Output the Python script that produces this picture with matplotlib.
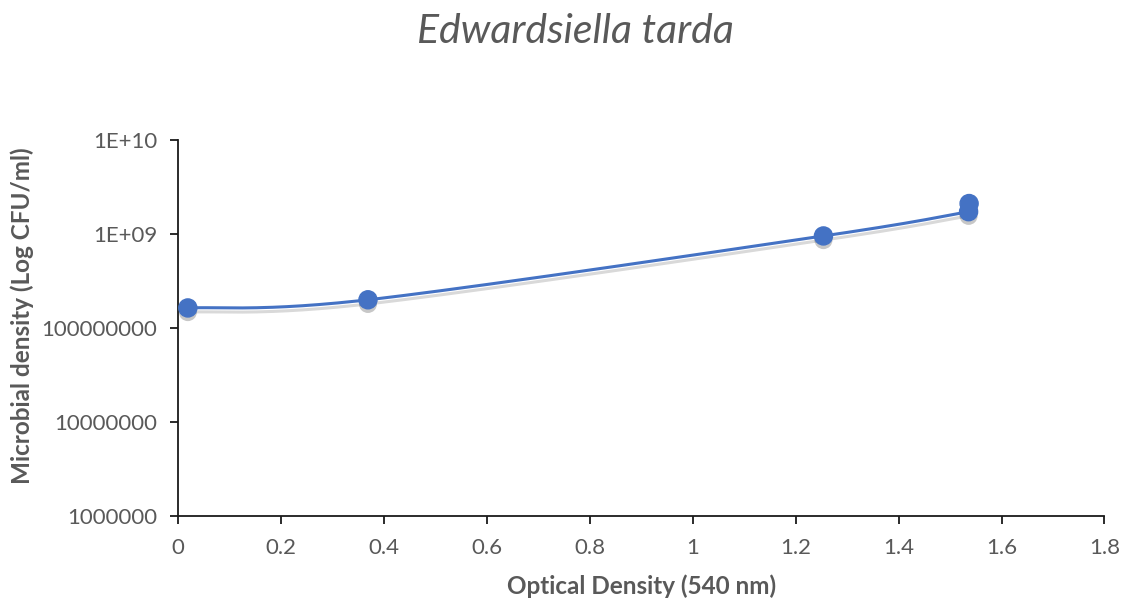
import numpy as np
import matplotlib.pyplot as plt
import matplotlib.patheffects as pe
from matplotlib.ticker import FixedLocator, FixedFormatter

# Calibration readings for E. tarda
od_540 = [0.019, 0.369, 1.254, 1.536, 1.537]
cfu_per_ml = [1.63e8, 1.99e8, 9.5e8, 1.72e9, 2.1e9]

y_ticks = [1e6, 1e7, 1e8, 1e9, 1e10]
y_tick_labels = ["1000000", "10000000", "100000000", "1E+09", "1E+10"]
x_ticks = [0, 0.2, 0.4, 0.6, 0.8, 1, 1.2, 1.4, 1.6, 1.8]
x_tick_labels = ["0", "0.2", "0.4", "0.6", "0.8", "1", "1.2", "1.4", "1.6", "1.8"]

BLUE = "#4472C4"
GREY = "#595959"

plt.rcParams["font.family"] = ["Lato", "DejaVu Sans"]


def smooth_curve(xs, ys, n=60, tension=0.5):
    # cardinal spline through the points, done in log space for y
    x = np.asarray(xs, float)
    y = np.log10(np.asarray(ys, float))
    px = np.concatenate([[x[0]], x, [x[-1]]])
    py = np.concatenate([[y[0]], y, [y[-1]]])
    out_x, out_y = [], []
    t = np.linspace(0, 1, n)
    h1 = 2 * t**3 - 3 * t**2 + 1
    h2 = -2 * t**3 + 3 * t**2
    h3 = t**3 - 2 * t**2 + t
    h4 = t**3 - t**2
    for i in range(1, len(px) - 2):
        mx0 = tension * (px[i + 1] - px[i - 1])
        mx1 = tension * (px[i + 2] - px[i])
        my0 = tension * (py[i + 1] - py[i - 1])
        my1 = tension * (py[i + 2] - py[i])
        out_x.append(h1 * px[i] + h2 * px[i + 1] + h3 * mx0 + h4 * mx1)
        out_y.append(h1 * py[i] + h2 * py[i + 1] + h3 * my0 + h4 * my1)
    return np.concatenate(out_x), 10 ** np.concatenate(out_y)


fig = plt.figure(figsize=(11.27, 6), dpi=100)
ax = fig.add_axes([0.158, 0.14, 0.822, 0.627])

line_shadow = [pe.SimpleLineShadow(offset=(0, -3), shadow_color="black", alpha=0.15), pe.Normal()]
dot_shadow = [pe.SimplePatchShadow(offset=(0, -3), shadow_rgbFace="black", alpha=0.22), pe.Normal()]

# smooth through the distinct readings, the repeat at ~1.54 just joins straight
sx, sy = smooth_curve(od_540[:-1], cfu_per_ml[:-1])
sx = np.append(sx, od_540[-1])
sy = np.append(sy, cfu_per_ml[-1])
ax.plot(sx, sy, color=BLUE, linewidth=2.2, path_effects=line_shadow, zorder=2)
ax.plot(od_540, cfu_per_ml, linestyle="none", marker="o", markersize=13,
        color=BLUE, markeredgecolor=BLUE, path_effects=dot_shadow, zorder=3)

ax.set_yscale("log")
ax.set_xlim(0, 1.8)
ax.set_ylim(1e6, 1e10)
ax.yaxis.set_major_locator(FixedLocator(y_ticks))
ax.yaxis.set_major_formatter(FixedFormatter(y_tick_labels))
ax.yaxis.set_minor_locator(FixedLocator([]))
ax.set_xticks(x_ticks)
ax.set_xticklabels(x_tick_labels)

for side in ("top", "right"):
    ax.spines[side].set_visible(False)
for side in ("left", "bottom"):
    ax.spines[side].set_color("#1a1a1a")
    ax.spines[side].set_linewidth(1.3)
ax.tick_params(axis="both", direction="out", length=6, width=1.3, color="#1a1a1a",
               labelsize=16, labelcolor=GREY)
ax.tick_params(axis="x", pad=10)
ax.tick_params(axis="y", pad=9)

ax.set_xlabel("Optical Density (540 nm)", fontsize=17.5, fontweight="bold", color=GREY, labelpad=12)
ax.set_ylabel("Microbial density (Log CFU/ml)", fontsize=17.5, fontweight="bold", color=GREY)
ax.yaxis.set_label_coords(-0.155, 0.532)
fig.text(0.511, 0.948, "Edwardsiella tarda", ha="center", va="center",
         fontsize=29.5, style="italic", color=GREY)

fig.savefig("out.png", dpi=100)
